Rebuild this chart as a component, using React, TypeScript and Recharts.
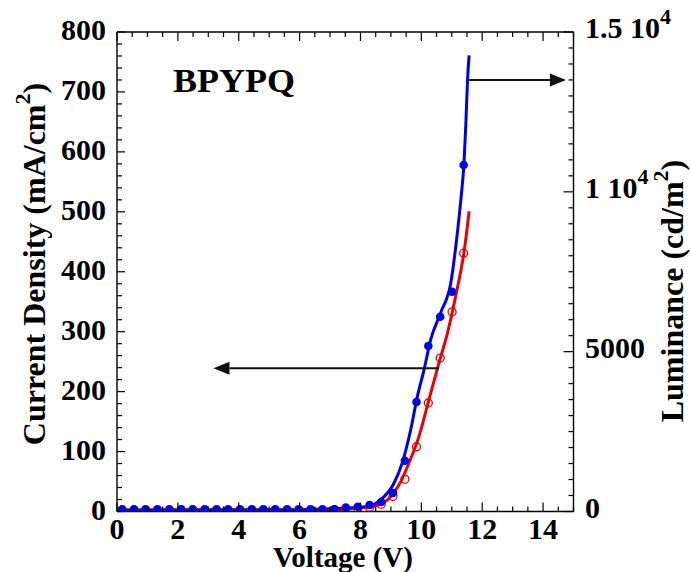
import { ComposedChart, Line, Scatter, XAxis, YAxis, ReferenceLine } from 'recharts';

const FONT = '"Liberation Serif", "Times New Roman", serif';
const BLUE = '#0000EE';
const RED = '#EE0000';

// measured points (V)
const voltages = [0.17, 0.56, 0.94, 1.33, 1.72, 2.11, 2.49, 2.88, 3.27, 3.65, 4.04, 4.43, 4.81, 5.2, 5.59, 5.97, 6.36, 6.75, 7.14, 7.52, 7.91, 8.3, 8.68, 9.07, 9.46, 9.84, 10.23, 10.62, 11.01, 11.39];
// luminance, cd/m2 (right axis, filled blue)
const luminance = [60, 60, 60, 60, 60, 60, 60, 60, 60, 60, 60, 60, 60, 60, 60, 60, 60, 60, 70, 125, 150, 203, 297, 579, 1589, 3425, 5177, 6093, 6875, 10838];
// current density, mA/cm2 (left axis, open red)
const currentDensity = [3, 3, 3, 3, 3, 3, 3, 3, 3, 3, 3, 3, 3, 3, 3, 3, 3, 3, 3, 4, 5, 7, 12, 25, 54, 108, 181, 256, 333, 431];

// fitted curves
const lumFitV = [0, 6.0, 7.3, 8.2, 8.66, 9.1, 9.37, 9.65, 9.87, 10.09, 10.31, 10.64, 10.97, 11.16, 11.3, 11.4, 11.46, 11.52, 11.57];
const lumFit = [50, 55, 100, 150, 361, 885, 1512, 2557, 3602, 4440, 5381, 6228, 7160, 8519, 9774, 10872, 12074, 13539, 14271];
const jFitV = [0, 6.5, 8.0, 8.55, 8.99, 9.32, 9.59, 9.92, 10.25, 10.58, 10.86, 11.13, 11.4, 11.46, 11.57];
const jFit = [2, 2, 6, 10, 24.5, 49.5, 80.5, 125, 186.5, 248, 298, 359.5, 432, 454, 501];

const xTicks = [0, 0.5, 1, 1.5, 2, 2.5, 3, 3.5, 4, 4.5, 5, 5.5, 6, 6.5, 7, 7.5, 8, 8.5, 9, 9.5, 10, 10.5, 11, 11.5, 12, 12.5, 13, 13.5, 14, 14.5, 15];
const leftTicks = [0, 20, 40, 60, 80, 100, 120, 140, 160, 180, 200, 220, 240, 260, 280, 300, 320, 340, 360, 380, 400, 420, 440, 460, 480, 500, 520, 540, 560, 580, 600, 620, 640, 660, 680, 700, 720, 740, 760, 780, 800];
const rightTicks = [0, 500, 1000, 1500, 2000, 2500, 3000, 3500, 4000, 4500, 5000, 5500, 6000, 6500, 7000, 7500, 8000, 8500, 9000, 9500, 10000, 10500, 11000, 11500, 12000, 12500, 13000, 13500, 14000, 14500, 15000];
const rightLabels: Record<number, [string, string]> = {
  0: ['0', ''],
  5000: ['5000', ''],
  10000: ['1 10', '4'],
  15000: ['1.5 10', '4'],
};

// annotation arrows [V, mA/cm2]
const arrowJ = [[10.58, 239], [3.17, 239]];
const arrowL = [[11.57, 720], [14.75, 720]];

const lumPoints = voltages.map((v, i) => ({ v, l: luminance[i] }));
const jPoints = voltages.map((v, i) => ({ v, j: currentDensity[i] }));
const lumCurve = lumFitV.map((v, i) => ({ v, l: lumFit[i] }));
const jCurve = jFitV.map((v, i) => ({ v, j: jFit[i] }));

const labelStyle = { fontFamily: FONT, fontWeight: 700, fill: '#000' } as const;

const BottomTick = (p: any) => {
  const v = p.payload.value;
  const major = v % 2 === 0;
  return (
    <g>
      <line x1={p.x} y1={p.y} x2={p.x} y2={p.y - (major ? 9 : 5)} stroke="#000" strokeWidth={1.2} />
      {major && v < 15 && (
        <text x={p.x} y={p.y + 27} textAnchor="middle" fontSize={30} {...labelStyle}>{v}</text>
      )}
    </g>
  );
};

const TopTick = (p: any) => {
  const major = p.payload.value % 2 === 0;
  return <line x1={p.x} y1={p.y} x2={p.x} y2={p.y + (major ? 9 : 5)} stroke="#000" strokeWidth={1.2} />;
};

const LeftTick = (p: any) => {
  const v = p.payload.value;
  const major = v % 100 === 0;
  return (
    <g>
      <line x1={p.x} y1={p.y} x2={p.x + (major ? 8 : 5)} y2={p.y} stroke="#000" strokeWidth={1.2} />
      {major && (
        <text x={p.x - 11} y={p.y + 8} textAnchor="end" fontSize={30} {...labelStyle}>{v}</text>
      )}
    </g>
  );
};

const RightTick = (p: any) => {
  const v = p.payload.value;
  const lab = rightLabels[v];
  return (
    <g>
      <line x1={p.x} y1={p.y} x2={p.x - (lab ? 10 : 5)} y2={p.y} stroke="#000" strokeWidth={1.2} />
      {lab && (
        <text x={p.x + 11.5} y={p.y + 6} textAnchor="start" fontSize={30} {...labelStyle}>
          {lab[0]}
          {lab[1] && <tspan fontSize={22} dy={-14}>{lab[1]}</tspan>}
        </text>
      )}
    </g>
  );
};

const Arrow = (p: any) => {
  const { x1, y1, x2, y2 } = p;
  const dx = x2 - x1;
  const dy = y2 - y1;
  const len = Math.hypot(dx, dy) || 1;
  const ux = dx / len;
  const uy = dy / len;
  const hl = 16;
  const hw = 6.5;
  const bx = x2 - ux * hl;
  const by = y2 - uy * hl;
  const pts = `${x2},${y2} ${bx - uy * hw},${by + ux * hw} ${bx + uy * hw},${by - ux * hw}`;
  return (
    <g>
      <line x1={x1} y1={y1} x2={bx} y2={by} stroke="#111" strokeWidth={2} />
      <polygon points={pts} fill="#111" />
    </g>
  );
};

const filledDot = (p: any) => <circle cx={p.cx} cy={p.cy} r={4.3} fill={BLUE} />;
const openDot = (p: any) => <circle cx={p.cx} cy={p.cy} r={4} fill="none" stroke={RED} strokeWidth={1.3} />;

export default function App() {
  return (
    <div style={{ position: 'absolute', left: 0, top: 0, width: 691, height: 572, background: '#fff' }}>
      <ComposedChart width={691} height={572} margin={{ top: 31, right: 0, bottom: 0, left: 0 }}>
        <XAxis xAxisId="b" dataKey="v" type="number" domain={[0, 15]} ticks={xTicks} interval={0}
          orientation="bottom" height={60.5} tickSize={0} tickMargin={0} tickLine={false}
          axisLine={{ stroke: '#000', strokeWidth: 1.4 }} tick={BottomTick} allowDataOverflow />
        <XAxis xAxisId="t" dataKey="v" type="number" domain={[0, 15]} ticks={xTicks} interval={0}
          orientation="top" height={1} tickSize={0} tickMargin={0} tickLine={false}
          axisLine={{ stroke: '#000', strokeWidth: 1.4 }} tick={TopTick} allowDataOverflow />
        <YAxis yAxisId="j" type="number" domain={[0, 800]} ticks={leftTicks} interval={0}
          orientation="left" width={117} tickSize={0} tickMargin={0} tickLine={false}
          axisLine={{ stroke: '#000', strokeWidth: 1.4 }} tick={LeftTick} allowDataOverflow />
        <YAxis yAxisId="l" type="number" domain={[0, 15000]} ticks={rightTicks} interval={0}
          orientation="right" width={117.5} tickSize={0} tickMargin={0} tickLine={false}
          axisLine={{ stroke: '#000', strokeWidth: 1.4 }} tick={RightTick} allowDataOverflow />

        <Line xAxisId="b" yAxisId="j" data={jCurve} dataKey="j" type="monotone" stroke={RED}
          strokeWidth={3} dot={false} activeDot={false} isAnimationActive={false} />
        <Line xAxisId="b" yAxisId="l" data={lumCurve} dataKey="l" type="monotone" stroke={BLUE}
          strokeWidth={3} dot={false} activeDot={false} isAnimationActive={false} />
        <Scatter xAxisId="b" yAxisId="j" data={jPoints} dataKey="j" shape={openDot} isAnimationActive={false} />
        <Scatter xAxisId="b" yAxisId="l" data={lumPoints} dataKey="l" shape={filledDot} isAnimationActive={false} />

        <ReferenceLine xAxisId="b" yAxisId="j" ifOverflow="visible"
          segment={[{ x: arrowJ[0][0], y: arrowJ[0][1] }, { x: arrowJ[1][0], y: arrowJ[1][1] }]} shape={Arrow} />
        <ReferenceLine xAxisId="b" yAxisId="j" ifOverflow="visible"
          segment={[{ x: arrowL[0][0], y: arrowL[0][1] }, { x: arrowL[1][0], y: arrowL[1][1] }]} shape={Arrow} />
      </ComposedChart>

      <svg width={691} height={572} style={{ position: 'absolute', left: 0, top: 0, pointerEvents: 'none' }}>
        <text x={173} y={92} fontSize={34} textLength={122} lengthAdjust="spacingAndGlyphs" {...labelStyle}>BPYPQ</text>
        <text x={343} y={567} fontSize={29} textAnchor="middle" {...labelStyle}>Voltage (V)</text>
        <text transform="translate(45,264) rotate(-90)" fontSize={32} textAnchor="middle" {...labelStyle}>
          Current Density (mA/cm<tspan fontSize={22} dy={-15}>2</tspan><tspan dy={15}>)</tspan>
        </text>
        <text transform="translate(683,291) rotate(-90)" fontSize={32} textAnchor="middle" {...labelStyle}>
          Luminance (cd/m<tspan fontSize={22} dy={-15}>2</tspan><tspan dy={15}>)</tspan>
        </text>
      </svg>
    </div>
  );
}
